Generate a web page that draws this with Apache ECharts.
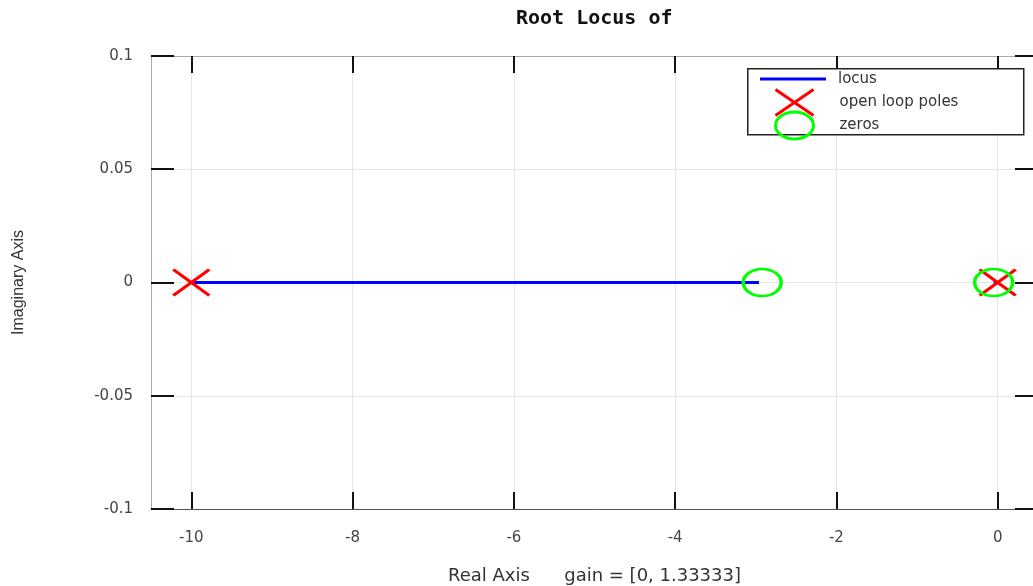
<!DOCTYPE html>
<html>
<head>
<meta charset="utf-8">
<script src="https://cdn.jsdelivr.net/npm/echarts@6/dist/echarts.min.js"></script>
<style>html,body{margin:0;padding:0;background:#fff;}#chart{width:1033px;height:586px;}</style>
</head>
<body>
<div id="chart"></div>
<script>
// ---- data ----
var xTicks = [-10, -8, -6, -4, -2, 0];
var locusBranch1 = [[-10, 0], [-2.96, 0]];
var locusBranch2 = [[0, 0], [-0.05, 0]];
var poles = [[-10, 0], [0, 0]];
var zeros = [[-2.92, 0], [-0.05, 0]];
var titleText = 'Root Locus of';
var xName = 'Real Axis      gain = [0, 1.33333]';
var yName = 'Imaginary Axis';

var X_PATH = 'path://M0,0L10,10M10,0L0,10';
var O_PATH = 'path://M0,5A5,5 0 1,1 10,5A5,5 0 1,1 0,5Z';
var tickStyle = {color: '#111', width: 2};
var labelFont = {fontFamily: 'DejaVu Sans', fontSize: 15, color: '#444'};

var chart = echarts.init(document.getElementById('chart'));
chart.setOption({
  animation: false,
  backgroundColor: '#fff',
  title: {
    text: titleText, left: 516, top: 9, padding: 0,
    textStyle: {fontFamily: 'DejaVu Sans Mono', fontWeight: 'bold', fontSize: 20, color: '#111'}
  },
  grid: {left: 151, right: -5, top: 56, bottom: 77, containLabel: false, outerBoundsMode: 'none'},
  graphic: [{
    type: 'rect', left: 747, top: 68, z: 3, silent: true,
    shape: {width: 276, height: 66},
    style: {fill: '#fff', stroke: '#222', lineWidth: 1.5}
  }],
  legend: [
    {
      data: ['locus'], left: 760, top: 71.5, padding: 0, itemWidth: 66, itemHeight: 3, z: 5,
      selectedMode: false, icon: 'rect',
      itemStyle: {color: '#0000ff', borderWidth: 0},
      textStyle: {fontFamily: 'DejaVu Sans', fontSize: 15, color: '#333', padding: [0, 0, 0, 7]}
    },
    {
      data: ['open loop poles'], left: 774, top: 88, padding: 0, itemWidth: 38, itemHeight: 26, z: 5,
      selectedMode: false, symbolKeepAspect: false,
      itemStyle: {color: 'transparent', borderColor: '#ff0000', borderWidth: 3, opacity: 1},
      textStyle: {fontFamily: 'DejaVu Sans', fontSize: 15, color: '#333', padding: [0, 0, 0, 21]}
    },
    {
      data: [{name: 'zeros', icon: O_PATH}], left: 774, top: 110.5, padding: 0, itemWidth: 38, itemHeight: 27, z: 5,
      selectedMode: false, symbolKeepAspect: false,
      itemStyle: {color: 'transparent', borderColor: '#00ff00', borderWidth: 3, opacity: 1},
      textStyle: {fontFamily: 'DejaVu Sans', fontSize: 15, color: '#333', padding: [0, 0, 0, 21]}
    }
  ],
  xAxis: [
    {
      type: 'value', position: 'bottom', min: -10.5, max: 0.5,
      axisLine: {show: true, onZero: false, lineStyle: {color: '#555', width: 1}},
      axisTick: {show: true, inside: true, length: 17, lineStyle: tickStyle, customValues: xTicks},
      axisLabel: Object.assign({margin: 22, customValues: xTicks}, labelFont),
      splitLine: {show: true, lineStyle: {color: '#e6e6e6', width: 1}},
      name: xName, nameLocation: 'middle', nameGap: 58,
      nameTextStyle: {fontFamily: 'DejaVu Sans', fontSize: 18, color: '#333'}
    },
    {
      type: 'value', position: 'top', min: -10.5, max: 0.5,
      axisLine: {show: true, onZero: false, lineStyle: {color: '#aaa', width: 1}},
      axisTick: {show: true, inside: true, length: 17, lineStyle: tickStyle, customValues: xTicks},
      axisLabel: {show: false},
      splitLine: {show: false}
    }
  ],
  yAxis: [
    {
      type: 'value', position: 'left', min: -0.1, max: 0.1, interval: 0.05,
      axisLine: {show: true, onZero: false, lineStyle: {color: '#aaa', width: 1}},
      axisTick: {show: true, inside: true, length: 23, lineStyle: tickStyle},
      axisLabel: Object.assign({margin: 18}, labelFont),
      splitLine: {show: true, lineStyle: {color: '#e6e6e6', width: 1}},
      name: yName, nameLocation: 'middle', nameGap: 124,
      nameTextStyle: {fontFamily: 'Liberation Sans', fontSize: 16, color: '#333'}
    },
    {
      type: 'value', position: 'right', min: -0.1, max: 0.1, interval: 0.05,
      axisLine: {show: true, onZero: false, lineStyle: {color: '#aaa', width: 1}},
      axisTick: {show: true, inside: true, length: 23, lineStyle: tickStyle},
      axisLabel: {show: false},
      splitLine: {show: false}
    }
  ],
  series: [
    {
      name: 'locus', type: 'line', data: locusBranch1, symbol: 'none', silent: true,
      lineStyle: {color: '#0000ff', width: 3}, itemStyle: {color: '#0000ff'}, z: 2
    },
    {
      name: 'locus', type: 'line', data: locusBranch2, symbol: 'none', silent: true,
      lineStyle: {color: '#0000ff', width: 3}, itemStyle: {color: '#0000ff'}, z: 2
    },
    {
      name: 'open loop poles', type: 'scatter', data: poles, symbol: X_PATH, symbolSize: [36, 26],
      symbolKeepAspect: false, silent: true, z: 3,
      itemStyle: {color: 'transparent', borderColor: '#ff0000', borderWidth: 3, opacity: 1}
    },
    {
      name: 'zeros', type: 'scatter', data: zeros, symbol: O_PATH, symbolSize: [38, 27],
      symbolKeepAspect: false, silent: true, z: 3,
      itemStyle: {color: 'transparent', borderColor: '#00ff00', borderWidth: 3, opacity: 1}
    }
  ]
});
</script>
</body>
</html>
